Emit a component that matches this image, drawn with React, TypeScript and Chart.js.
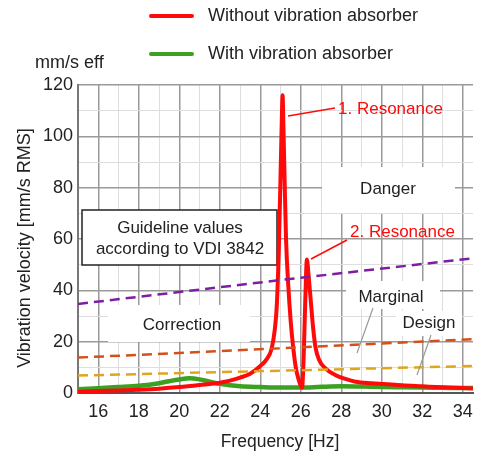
import React, { useEffect, useRef } from "react";
import { Chart, registerables } from "chart.js";

Chart.register(...registerables);

// ---- data ----
const redFreq = [15, 16, 17, 18, 19, 20, 21, 22, 22.5, 23, 23.5, 24, 24.3, 24.55, 24.72, 24.82, 24.92, 25.0, 25.06, 25.1, 25.14, 25.2, 25.27, 25.38, 25.5, 25.62, 25.75, 25.9, 26.06, 26.14, 26.22, 26.3, 26.38, 26.48, 26.6, 26.72, 26.9, 27.2, 27.7, 28.2, 28.7, 29.5, 30.1, 31, 32, 33, 34.5];
const redVel = [0.5, 0.8, 1.0, 1.3, 1.7, 2.3, 3.1, 4.0, 4.8, 6.0, 7.5, 10.5, 13, 17, 25, 35, 58, 85, 106, 116, 104, 83, 60, 42, 28, 18, 10, 5, 2, 14, 36, 52, 46, 37, 26, 18, 13, 9.7, 7, 5.5, 4.4, 3.8, 3.5, 3.0, 2.6, 2.2, 1.8];

const greenFreq = [15, 16, 17, 18, 19, 19.5, 20, 20.5, 21, 21.5, 22, 22.5, 23, 24, 25, 26, 27, 28, 29, 30, 31, 32, 33, 34, 34.5];
const greenVel = [1.5, 1.9, 2.3, 2.8, 3.8, 4.6, 5.3, 5.7, 5.3, 4.4, 3.6, 3.0, 2.6, 2.3, 2.1, 2.1, 2.4, 2.6, 2.5, 2.3, 2.2, 2.1, 2.0, 1.9, 1.9];

const guideFreq = [15, 25, 34.5];
const dangerLimit = [34.7, 44, 52.5];
const marginalLimit = [13.8, 17.4, 21];
const designLimit = [6.8, 8.7, 10.5];

const xTicks = [15, 16, 17, 18, 19, 20, 21, 22, 23, 24, 25, 26, 27, 28, 29, 30, 31, 32, 33, 34, 34.5];
const yTicks = [0, 10, 20, 30, 40, 50, 60, 70, 80, 90, 100, 110, 120];

const legendLabels = ["Without vibration absorber", "With vibration absorber"];

const FONT = "'Liberation Sans', Arial, sans-serif";
const TXT = "#222222";
const RED = "#ff0a0a";
const GREEN = "#3ca020";

const pts = (xs: number[], ys: number[]) => xs.map((x, i) => ({ x, y: ys[i] }));

const decorPlugin = {
  id: "decor",
  beforeDatasetsDraw(chart: any) {
    const ctx = chart.ctx;
    ctx.save();
    ctx.fillStyle = "#ffffff";
    // white label backgrounds
    ctx.fillRect(322, 167, 133, 46); // Danger
    ctx.fillRect(108, 305, 142, 37); // Correction
    ctx.fillRect(346, 281, 94, 28); // Marginal
    ctx.fillRect(396, 311, 66, 25); // Design
    // guideline box
    ctx.fillRect(82, 210, 195, 55);
    ctx.strokeStyle = "#222";
    ctx.lineWidth = 1.5;
    ctx.strokeRect(82, 210, 195, 55);
    ctx.restore();
  },
  afterDatasetsDraw(chart: any) {
    const ctx = chart.ctx;
    ctx.save();
    ctx.textBaseline = "middle";
    // guideline text
    ctx.fillStyle = TXT;
    ctx.font = `17px ${FONT}`;
    ctx.textAlign = "center";
    ctx.fillText("Guideline values", 180, 228);
    ctx.fillText("according to VDI 3842", 180, 249);
    ctx.fillText("Danger", 388, 189);
    ctx.fillText("Correction", 182, 325);
    ctx.fillText("Marginal", 391, 297);
    ctx.fillText("Design", 429, 323);
    // grey leaders
    ctx.strokeStyle = "#999";
    ctx.lineWidth = 1.2;
    ctx.beginPath();
    ctx.moveTo(373, 308);
    ctx.lineTo(357, 353);
    ctx.moveTo(431, 335);
    ctx.lineTo(417, 375);
    ctx.stroke();
    // resonance labels
    ctx.fillStyle = RED;
    ctx.strokeStyle = RED;
    ctx.lineWidth = 1.5;
    ctx.textAlign = "left";
    ctx.fillText("1. Resonance", 338, 109);
    ctx.fillText("2. Resonance", 350, 232);
    ctx.beginPath();
    ctx.moveTo(288, 116);
    ctx.lineTo(335, 108);
    ctx.moveTo(311, 259);
    ctx.lineTo(347, 240);
    ctx.stroke();
    // legend
    ctx.lineCap = "round";
    ctx.lineWidth = 4;
    ctx.strokeStyle = RED;
    ctx.beginPath();
    ctx.moveTo(151, 16);
    ctx.lineTo(192, 16);
    ctx.stroke();
    ctx.strokeStyle = GREEN;
    ctx.beginPath();
    ctx.moveTo(151, 54);
    ctx.lineTo(192, 54);
    ctx.stroke();
    ctx.fillStyle = TXT;
    ctx.font = `18px ${FONT}`;
    ctx.fillText(legendLabels[0], 208, 16);
    ctx.fillText(legendLabels[1], 208, 54);
    // unit label
    ctx.fillText("mm/s eff", 35, 63);
    // axis titles
    ctx.textAlign = "center";
    ctx.font = `17.5px ${FONT}`;
    ctx.fillText("Frequency [Hz]", 280, 442);
    ctx.translate(25, 248);
    ctx.rotate(-Math.PI / 2);
    ctx.font = `18px ${FONT}`;
    ctx.fillText("Vibration velocity [mm/s RMS]", 0, 0);
    ctx.restore();
  },
};

export default function App() {
  const ref = useRef<HTMLCanvasElement | null>(null);
  useEffect(() => {
    document.body.style.margin = "0";
    if (!ref.current) return;
    const chart = new Chart(ref.current, {
      type: "line",
      data: {
        datasets: [
          { label: "Danger limit", data: pts(guideFreq, dangerLimit), borderColor: "#7d1fa0", borderWidth: 2.5, borderDash: [10, 6], pointRadius: 0, fill: false },
          { label: "Marginal limit", data: pts(guideFreq, marginalLimit), borderColor: "#d4501a", borderWidth: 2.5, borderDash: [10, 6], pointRadius: 0, fill: false },
          { label: "Design limit", data: pts(guideFreq, designLimit), borderColor: "#e0a520", borderWidth: 2.5, borderDash: [10, 6], pointRadius: 0, fill: false },
          { label: legendLabels[0], data: pts(redFreq, redVel), borderColor: RED, borderWidth: 4, pointRadius: 0, cubicInterpolationMode: "monotone", fill: false },
          { label: legendLabels[1], data: pts(greenFreq, greenVel), borderColor: GREEN, borderWidth: 4.5, pointRadius: 0, cubicInterpolationMode: "monotone", fill: false },
        ],
      },
      options: {
        animation: false,
        responsive: false,
        devicePixelRatio: 1,
        layout: { padding: { top: 85, left: 0, right: 0.5, bottom: 0 } },
        plugins: { legend: { display: false }, tooltip: { enabled: false } },
        scales: {
          x: {
            type: "linear",
            min: 15,
            max: 34.5,
            afterBuildTicks: (s: any) => { s.ticks = xTicks.map((v) => ({ value: v })); },
            afterFit: (s: any) => { s.height = 61; },
            ticks: {
              autoSkip: false,
              maxRotation: 0,
              padding: 8,
              color: TXT,
              font: { size: 18, family: FONT },
              callback: (v: any) => (Number.isInteger(v) && v % 2 === 0 ? String(v) : ""),
            },
            grid: {
              drawTicks: false,
              color: (c: any) => {
                const v = c.tick?.value;
                if (v === 34.5) return "rgba(0,0,0,0)";
                return Number.isInteger(v) && v % 2 === 0 ? "#9a9a9a" : "#dedede";
              },
              lineWidth: (c: any) => {
                const v = c.tick?.value;
                return Number.isInteger(v) && v % 2 === 0 ? 1.5 : 1;
              },
            },
            border: { display: true, color: "#555", width: 2 },
          },
          y: {
            type: "linear",
            min: 0,
            max: 120,
            afterBuildTicks: (s: any) => { s.ticks = yTicks.map((v) => ({ value: v })); },
            afterFit: (s: any) => { s.width = 78; },
            ticks: {
              autoSkip: false,
              padding: 5,
              color: TXT,
              font: { size: 18, family: FONT },
              callback: (v: any) => (v % 20 === 0 ? String(v) : ""),
            },
            grid: {
              drawTicks: false,
              color: (c: any) => (c.tick?.value % 20 === 0 ? "#9a9a9a" : "#dedede"),
              lineWidth: (c: any) => (c.tick?.value % 20 === 0 ? 1.5 : 1),
            },
            border: { display: true, color: "#777", width: 2 },
          },
        },
      },
      plugins: [decorPlugin],
    } as any);
    return () => chart.destroy();
  }, []);
  return (
    <div style={{ position: "absolute", left: 0, top: 0, width: 481, height: 454 }}>
      <canvas ref={ref} width={481} height={454} style={{ width: 481, height: 454 }} />
    </div>
  );
}
